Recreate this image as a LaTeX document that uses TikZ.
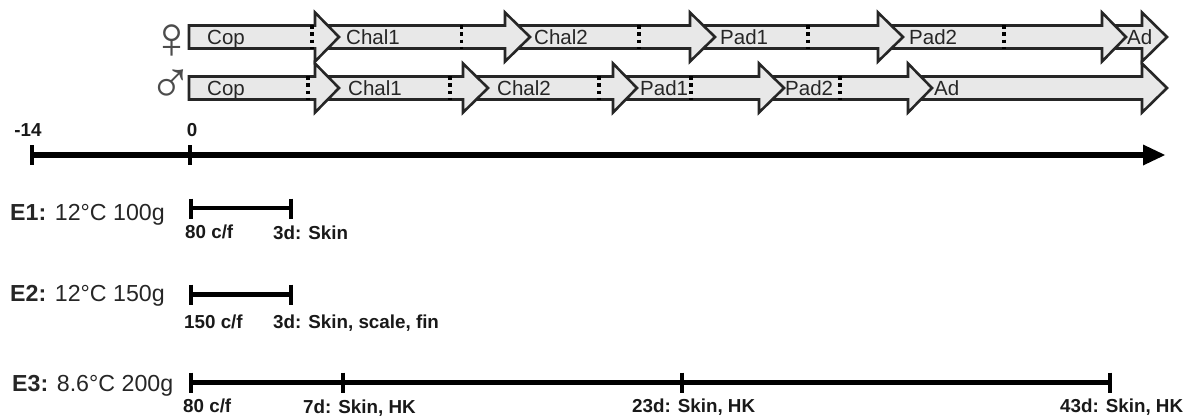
\documentclass[tikz,border=0pt]{standalone}
\usepackage{fontspec}
\setmainfont{Liberation Sans}
\newcommand{\stagearrow}[4]{% y, start, head base, tip
  \draw[stagebox] (#2,#1-11.5) -- (#3,#1-11.5) -- (#3,#1-24.5) -- (#4,#1) -- (#3,#1+24.5) -- (#3,#1+11.5) -- (#2,#1+11.5) -- cycle;}
\newcommand{\stagearrowopen}[4]{% open at its start, so that it runs on from the arrow before
  \fill[stagefill] (#2,#1-11.5) -- (#3,#1-11.5) -- (#3,#1-24.5) -- (#4,#1) -- (#3,#1+24.5) -- (#3,#1+11.5) -- (#2,#1+11.5) -- cycle;
  \draw[stageline] (#2,#1-11.5) -- (#3,#1-11.5) -- (#3,#1-24.5) -- (#4,#1) -- (#3,#1+24.5) -- (#3,#1+11.5) -- (#2,#1+11.5);}
\tikzset{
  x=1pt,y=-1pt,
  stagebox/.style={draw=black!85,fill=black!9,line width=2.6pt,miter limit=10},
  stagefill/.style={fill=black!9},
  stageline/.style={draw=black!85,line width=2.6pt,miter limit=10},
  dots/.style={draw=black,line width=3.2pt,dash pattern=on 3.5pt off 3.8pt},
  stage/.style={anchor=base west,inner sep=0pt,font=\fontsize{20.5}{24}\selectfont,text=black!85},
  small/.style={anchor=base west,inner sep=0pt,font=\fontsize{18.8}{22}\selectfont\bfseries,text=black!90},
  group/.style={anchor=base west,inner sep=0pt,font=\fontsize{23.2}{27}\selectfont,text=black!85},
  sex/.style={anchor=center,inner sep=0pt,font=\fontsize{60}{64}\selectfont,text=black!70},
  bar/.style={draw=black,line width=4.4pt},
  tick/.style={draw=black,line width=4.6pt},
  thintick/.style={draw=black,line width=3.6pt},
  axis/.style={draw=black,line width=6.6pt},
}
\begin{document}
\begin{tikzpicture}
\useasboundingbox (0,0) rectangle (1189,418);
% female row
\stagearrowopen{37}{1106}{1142}{1167}
\stagearrowopen{37}{882}{1102}{1126}
\stagearrowopen{37}{694}{878}{903}
\stagearrowopen{37}{509}{690}{715}
\stagearrowopen{37}{319}{505}{530}
\stagearrow{37}{189}{315}{339}
\foreach \px in {312,461.5,639,808,1004}{\draw[dots] (\px,25) -- (\px,49);}
% male row
\stagearrowopen{88}{912}{1142}{1167}
\stagearrowopen{88}{763}{908}{932}
\stagearrowopen{88}{617}{759}{784}
\stagearrowopen{88}{467}{613}{637}
\stagearrowopen{88}{319}{463}{488}
\stagearrow{88}{189}{315}{339}
\foreach \px in {308,450,599,691,840}{\draw[dots] (\px,76) -- (\px,100);}
% stage labels
\node[stage] (fcop) at (207,44) {Cop};
\node[stage] (fchalA) at (346,44) {Chal1};
\node[stage] (fchalB) at (534,44) {Chal2};
\node[stage] (fpadA) at (720,44) {Pad1};
\node[stage] (fpadB) at (909,44) {Pad2};
\node[stage] (fad) at (1127,44) {Ad};
\node[stage] (mcop) at (207,95) {Cop};
\node[stage] (mchalA) at (348,95) {Chal1};
\node[stage] (mchalB) at (497,95) {Chal2};
\node[stage] (mpadA) at (640,95) {Pad1};
\node[stage] (mpadB) at (785,95) {Pad2};
\node[stage] (mad) at (934,95) {Ad};
\node[sex] (female) at (172,42) {♀};
\node[sex] (male) at (171,87) {♂};
% main axis
\coordinate (axisstart) at (32,155);
\coordinate (axisend) at (1146,155);
\draw[axis] (axisstart) -- (axisend);
\fill[black] (1143,144.5) -- (1165,155) -- (1143,165.5) -- cycle;
\draw[tick] (32,145) -- (32,165);
\draw[tick] (190,145) -- (190,165);
\node[small,anchor=base] (tA) at (28,136) {-14};
\node[small,anchor=base] (tB) at (192,136) {0};
% E1
\node[group] (eA) at (10,220) {\textbf{E1:} 12°C 100g};
\coordinate (eAa) at (191,208);
\coordinate (eAb) at (291,208);
\draw[bar] (eAa) -- (eAb);
\draw[tick] (191,198.5) -- (191,218.5);
\draw[tick] (291,198.5) -- (291,218.5);
\node[small] (eAl) at (185,238) {80 c/f};
\node[small] (eAr) at (273,239) {3d: Skin};
% E2
\node[group] (eB) at (10,301) {\textbf{E2:} 12°C 150g};
\coordinate (eBa) at (191,294.5);
\coordinate (eBb) at (291,294.5);
\draw[bar] (eBa) -- (eBb);
\draw[tick] (191,284.5) -- (191,304.5);
\draw[tick] (291,284.5) -- (291,304.5);
\node[small] (eBl) at (184,328) {150 c/f};
\node[small] (eBr) at (273,328) {3d: Skin, scale, fin};
% E3
\node[group] (eC) at (12,391) {\textbf{E3:} 8.6°C 200g};
\coordinate (eCa) at (191,382.5);
\coordinate (eCb) at (1110,382.5);
\draw[bar] (eCa) -- (eCb);
\draw[tick] (191,372.5) -- (191,392.5);
\draw[thintick] (343,372.5) -- (343,392.5);
\draw[thintick] (682,372.5) -- (682,392.5);
\draw[thintick] (1110,372.5) -- (1110,392.5);
\node[small] (eCl) at (183,412) {80 c/f};
\node[small] (eCm) at (303,413) {7d: Skin, HK};
\node[small] (eCn) at (632,412) {23d: Skin, HK};
\node[small] (eCr) at (1060,412) {43d: Skin, HK};
\end{tikzpicture}
\end{document}
